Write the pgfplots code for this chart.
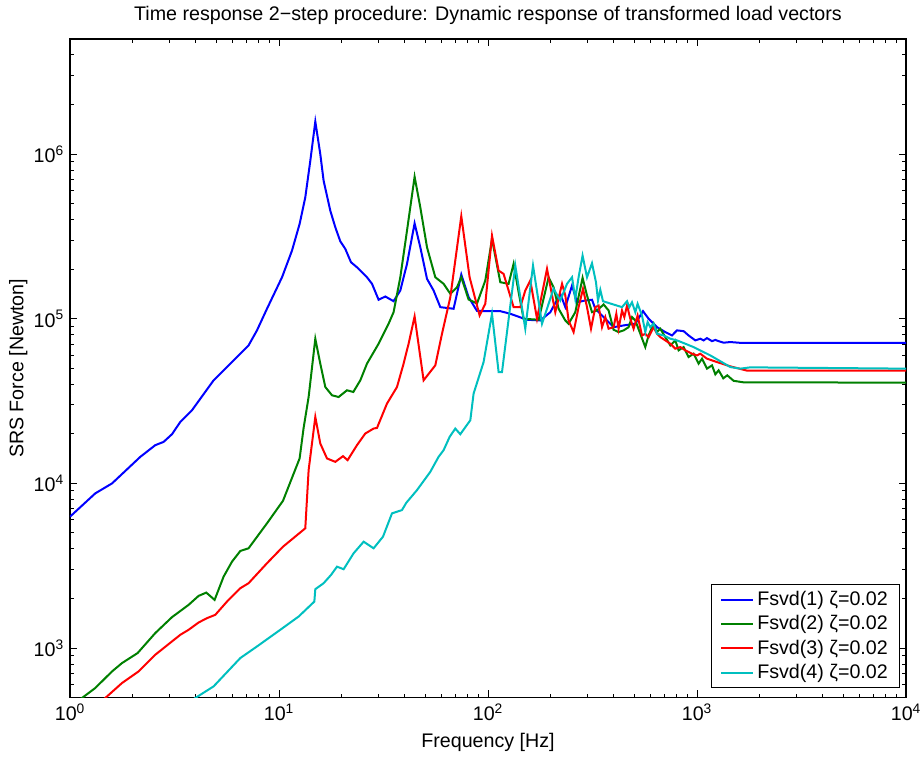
\documentclass[border=0pt]{standalone}
\usepackage{fontspec}
\setmainfont{Liberation Sans}
\usepackage{pgfplots}
\pgfplotsset{compat=1.18}
\definecolor{mplblue}{rgb}{0,0,1}
\definecolor{mplgreen}{rgb}{0,0.5,0}
\definecolor{mplred}{rgb}{1,0,0}
\definecolor{mplcyan}{rgb}{0,0.75,0.75}
\newcommand{\fs}{\fontsize{11.8}{14}\selectfont}
\begin{document}
\begin{tikzpicture}
\begin{axis}[
  scale only axis, width=501.6pt, height=395.2pt,
  xmode=log, ymode=log, log basis x=10, log basis y=10,
  xmin=1, xmax=10000, ymin=500, ymax=5e6,
  axis line style={line width=0.8pt},
  major tick length=4.5pt, minor tick length=2.4pt,
  tick style={black, line width=0.6pt},
  tick align=inside,
  /pgf/number format/assume math mode=true,
  log number format basis/.code 2 args={#1\textsuperscript{\pgfmathprintnumber{#2}}},
  tick label style={font=\fs},
  xlabel={Frequency [Hz]},
  ylabel={SRS Force [Newton]},
  title={Time response 2−step procedure: Dynamic response of transformed load vectors},
  xlabel style={font=\fs, at={(axis description cs:0.5,-0.0683)}, anchor=center},
  ylabel style={font=\fs, at={(axis description cs:-0.0618,0.5)}, anchor=center},
  title style={font=\fs, at={(axis description cs:0.5,1.02)}, anchor=center},
  legend cell align=left,
  legend style={at={(0.9928,0.0142)}, anchor=south east, draw=black, line width=0.6pt,
    font=\fs, inner xsep=5pt, inner ysep=2pt, row sep=0.6pt},
  legend image code/.code={\draw[#1] (0pt,0pt) -- (19pt,0pt);},
]
\coordinate (sw) at (rel axis cs:0,0);
\coordinate (ne) at (rel axis cs:1,1);

\addplot[mplblue, line width=1.2pt] coordinates {
(1,6280) (1.321,8700) (1.589,10000) (2.170,14500) (2.558,17070) (2.804,17870) (3.076,19900) (3.371,23620) (3.834,27820) (4.865,42270) (7.152,68900) (7.847,85000) (8.76,115000) (10.34,178700) (11.54,259400) (12.55,376500) (13.36,545800) (14.12,911000) (14.92,1576000) (15.76,1000000) (16.35,689000) (17.60,453300) (18.60,359200) (19.65,295300) (20.76,265600) (22.11,220300) (23.61,205400) (26.36,178700) (27.86,163000) (29.97,130400) (32.26,136500) (35.34,127800) (38.06,148400) (40.97,215400) (44.55,379700) (47.44,271600) (51.07,174700) (54.93,148400) (59.13,117600) (68.46,115000) (74.51,185600) (80.76,135200) (88.60,111500) (114.5,111200) (127.9,107200) (153.7,98600) (177.9,97600) (198.7,109600) (221.8,141800) (234.4,117600) (252.4,159200) (266.6,126000) (292.2,129100) (314.5,130400) (326.1,115000) (357.4,102300) (399.0,88900) (445.6,91100) (506.9,93300) (551.6,111200) (586.8,100000) (643.8,88900) (705.3,83000) (759.3,79200) (802.2,85000) (862.9,84100) (911.8,79200) (981.5,73900) (1037,75650) (1076,73900) (1116,76300) (1180,73100) (1224,74400) (1269,73100) (1341,71550) (1443,72200) (1612,71400) (10000,71400)
};
\addlegendentry{Fsvd(1) ζ=0.02}

\addplot[mplgreen, line width=1.2pt] coordinates {
(1,441) (1.141,497.7) (1.321,572.3) (1.589,721.5) (1.774,811) (2.106,932.6) (2.558,1233) (3.076,1541) (3.694,1830) (4.124,2075) (4.489,2173) (4.919,1962) (5.432,2716) (5.958,3348) (6.53,3888) (7.152,4037) (8.76,5723) (10.45,7844) (12.55,14180) (13.11,21640) (13.86,33480) (14.92,75650) (15.76,53380) (16.66,38500) (17.93,34290) (19.28,33480) (21.15,36780) (22.68,35920) (24.49,42270) (26.36,53380) (29.97,70550) (33.45,93300) (35.34,109600) (38.06,178700) (40.97,343000) (44.55,728500) (47.44,474800) (51.07,271600) (55.96,178700) (61.32,163000) (66.03,141800) (71.07,155400) (74.51,178700) (80.76,130900) (88.60,123800) (97.07,170700) (104.5,304500) (114.5,166700) (125.5,163000) (132.6,215400) (140.1,145000) (148.0,100000) (174.7,98600) (195.0,178700) (206.0,155400) (217.7,115000) (234.4,97600) (243.0,93300) (261.6,109600) (283.5,177200) (297.7,138400) (314.5,109600) (332.3,112300) (357.4,122100) (377.6,112300) (399.0,85800) (421.6,83000) (445.6,85000) (470.8,88900) (488.7,102300) (506.9,97600) (535.5,81100) (565.7,67300) (586.8,79200) (620.0,93300) (643.8,83000) (667.4,87000) (705.3,77400) (745.3,68900) (787.3,73900) (816.6,64300) (862.9,67300) (911.8,58550) (962.9,61360) (1018,53380) (1057,57230) (1116,49770) (1180,52120) (1224,45960) (1269,48610) (1336,43470) (1396,45330) (1497,41980) (1671,41100) (10000,40940)
};
\addlegendentry{Fsvd(2) ζ=0.02}

\addplot[mplred, line width=1.2pt] coordinates {
(1,321) (1.475,497.7) (1.774,613.6) (2.129,721.5) (2.558,910.8) (3.371,1204) (3.694,1291) (4.124,1430) (4.523,1520) (4.957,1592) (5.638,1916) (6.53,2310) (7.152,2477) (8.76,3275) (10.45,4128) (13.36,5338) (13.86,12040) (14.92,25330) (15.76,17470) (16.97,14180) (18.60,13520) (20.24,14640) (21.29,13840) (23.61,17070) (25.87,20090) (28.36,21540) (29.44,21730) (32.86,30530) (36.69,38500) (39.47,53380) (41.70,70550) (44.55,103300) (49.19,42270) (55.96,52120) (60.25,81100) (66.03,135200) (74.51,419800) (81.66,178700) (91.17,104700) (97.07,123300) (104.5,319700) (112.4,196200) (118.7,187400) (125.5,148400) (132.6,117600) (142.7,117600) (150.8,148400) (159.4,170700) (171.6,100000) (191.6,200900) (209.9,109600) (226.1,163000) (234.4,138400) (243.0,97600) (256.8,83000) (271.3,117600) (284.8,152000) (297.7,117600) (311.1,87000) (326.1,117600) (338.2,120400) (351.3,88900) (364.2,102300) (377.6,87000) (399.0,88900) (411.1,107200) (421.6,87000) (437.7,112300) (449.1,102300) (462.7,120400) (479.6,100000) (497.4,87000) (519.8,104700) (545.6,79200) (565.7,81100) (586.8,77400) (620.0,88900) (643.8,81100) (667.4,77400) (705.3,73900) (745.3,70550) (787.3,65800) (832.0,67300) (879.0,64300) (946.4,61360) (1000,59900) (1037,61360) (1116,57230) (1246,54580) (1443,51400) (1735,48400) (10000,48400)
};
\addlegendentry{Fsvd(3) ζ=0.02}

\addplot[mplcyan, line width=1.2pt] coordinates {
(1,148.5) (3.977,497.7) (4.865,585.3) (6.53,870) (7.847,1023) (10.14,1291) (12.41,1554) (14.76,1916) (14.92,2279) (16.35,2477) (17.74,2781) (18.95,3123) (20.38,3012) (22.75,3765) (25.41,4427) (28.36,4037) (31.45,4748) (34.73,6579) (38.77,6890) (40.65,7628) (45.74,9108) (52.96,11760) (58.01,14500) (61.32,15920) (65.53,19160) (69.74,21540) (73.70,19900) (82.30,24190) (85.33,35120) (95.26,54580) (104.5,107200) (112.4,47480) (116.7,47480) (135.1,210400) (150.8,87000) (164.2,210400) (181.3,93300) (206.0,152000) (221.8,129100) (238.8,163000) (252.4,178700) (261.6,132200) (271.3,178700) (283.5,241900) (297.7,178700) (314.5,217300) (328.6,166700) (336.0,129100) (344.6,149900) (355.0,127800) (437.7,117600) (462.7,127800) (474.4,117600) (488.7,126000) (506.9,109600) (519.8,123300) (545.6,104700) (565.7,83000) (580.2,95400) (597.7,88900) (620.0,93300) (643.8,81100) (692.1,79200) (745.3,75650) (802.2,73900) (962.9,67300) (1158,59900) (1443,50900) (1612,49770) (1799,50680) (10000,49770)
};
\addlegendentry{Fsvd(4) ζ=0.02}
\end{axis}
\pgfresetboundingbox
\path[use as bounding box] ([shift={(-42pt,-35.6pt)}]sw) rectangle ([shift={(10.8pt,23.4pt)}]ne);
\end{tikzpicture}
\end{document}
